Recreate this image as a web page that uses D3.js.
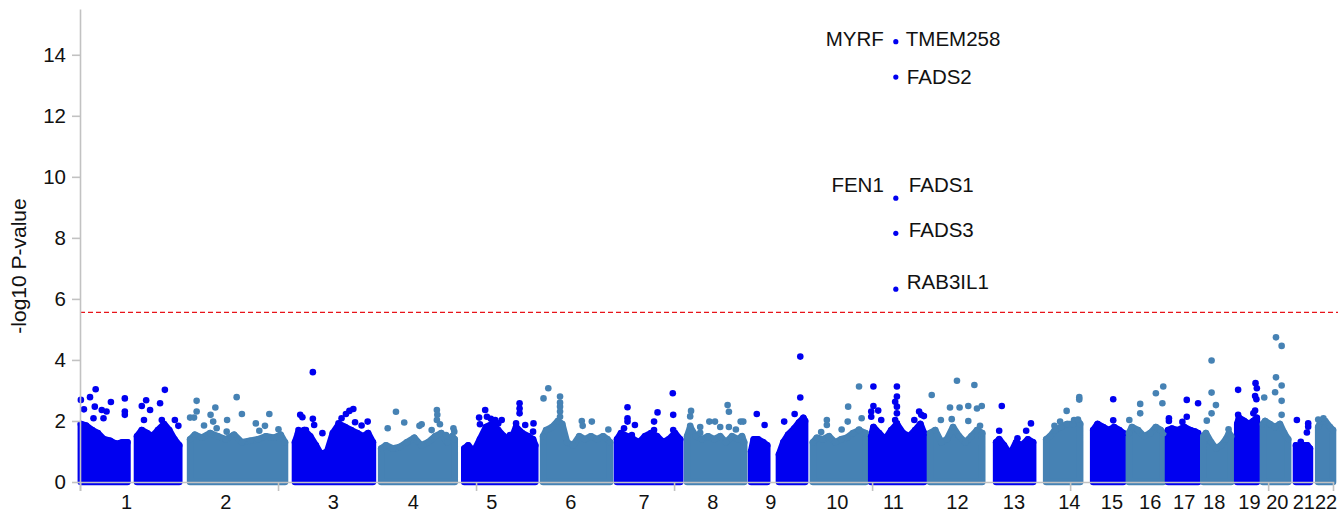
<!DOCTYPE html>
<html>
<head>
<meta charset="utf-8">
<script src="https://cdn.jsdelivr.net/npm/d3@7"></script>
<style>
  body { margin: 0; background: #fff; }
  text { font-family: "Liberation Sans", Arial, sans-serif; fill: #111; }
</style>
</head>
<body>
<div id="manhattan"></div>
<script>
// chromosomes and their lengths in Mb (hg19, rounded)
const chromosomes = ['1','2','3','4','5','6','7','8','9','10','11','12','13','14','15','16','17','18','19','20','21','22']
const chromLengths = [249,243,198,191,181,171,159,146,141,136,135,134,115,107,103,90,81,78,59,63,48,51]
// where each chromosome label sits, Mb from the chromosome start
const chromLabelPos = [107,86,90,76,65,66,63,62,49,61,54,66,62,74,65,50,38,26,29,34,32,35]
const genomeTicks = [0,455,910,1365,1820,2275,2730]
const yTicks = [0,2,4,6,8,10,12,14]
const threshold = 5.56

// top edge of the dense cloud of points: [chrom, Mb, -log10 p], null = gap (centromere)
const cloudTop = [
  [1,2,1.9],[1,14,1.85],[1,28,1.7],[1,41,1.6],[1,55,1.4],[1,69,1.35],[1,83,1.25],[1,97,1.3],[1,109,1.3],[1,120,null],[1,131,1.5],[1,142,1.7],[1,154,1.6],[1,166,1.5],[1,179,1.7],[1,193,1.9],[1,205,1.7],[1,217,1.4],[1,228,1.2],
  [2,4,1.4],[2,15,1.55],[2,31,1.45],[2,50,1.6],[2,68,1.5],[2,86,1.4],[2,105,1.55],[2,123,1.3],[2,142,1.35],[2,160,1.4],[2,178,1.5],[2,197,1.45],[2,212,1.55],[2,222,1.3],
  [3,2,1.3],[3,9,1.6],[3,23,1.7],[3,37,1.5],[3,50,1.2],[3,62,0.9],[3,76,1.0],[3,89,1.6],[3,103,1.9],[3,117,1.8],[3,131,1.7],[3,145,1.6],[3,158,1.5],[3,170,1.6],[3,181,1.3],
  [4,2,1.1],[4,13,1.2],[4,29,1.1],[4,45,1.15],[4,61,1.3],[4,78,1.45],[4,94,1.2],[4,110,1.3],[4,126,1.5],[4,140,1.6],[4,154,1.3],[4,165,1.5],[4,171,1.4],
  [5,2,1.1],[5,11,1.2],[5,24,1.0],[5,38,1.4],[5,52,1.8],[5,66,1.9],[5,80,1.7],[5,93,1.5],[5,107,1.3],[5,121,1.8],[5,135,1.6],[5,149,1.5],[5,160,1.4],[5,165,1.2],
  [6,2,1.5],[6,9,1.7],[6,23,1.8],[6,36,2.0],[6,46,1.9],[6,57,1.3],[6,71,1.2],[6,85,1.5],[6,98,1.4],[6,112,1.5],[6,126,1.4],[6,140,1.5],[6,150,1.4],[6,156,1.3],
  [7,1,1.4],[7,10,1.6],[7,24,1.5],[7,38,1.4],[7,52,1.3],[7,65,1.5],[7,79,1.6],[7,93,1.5],[7,107,1.3],[7,120,1.4],[7,134,1.6],[7,146,1.4],
  [8,3,1.5],[8,10,1.8],[8,23,1.5],[8,37,1.4],[8,51,1.5],[8,65,1.4],[8,79,1.5],[8,92,1.3],[8,106,1.5],[8,120,1.4],[8,129,1.5],[8,134,1.3],
  [9,4,1.0],[9,10,1.4],[9,20,1.4],[9,32,1.3],[9,41,1.2],[9,55,null],[9,68,0.9],[9,78,1.3],[9,89,1.55],[9,103,1.75],[9,114,1.95],[9,124,2.1],[9,128,2.0],
  [10,5,1.3],[10,14,1.45],[10,28,1.4],[10,42,1.5],[10,56,1.3],[10,70,1.4],[10,83,1.45],[10,97,1.6],[10,111,1.7],[10,126,1.6],
  [11,3,1.5],[11,8,1.8],[11,21,1.6],[11,35,1.4],[11,49,1.7],[11,62,1.9],[11,76,1.6],[11,90,1.5],[11,104,1.7],[11,116,1.9],[11,124,1.6],
  [12,3,1.6],[12,15,1.7],[12,29,1.3],[12,42,1.4],[12,56,1.8],[12,70,1.5],[12,84,1.3],[12,98,1.5],[12,111,1.7],[12,123,1.6],
  [13,21,1.3],[13,28,1.4],[13,39,1.2],[13,53,0.9],[13,67,1.3],[13,80,1.2],[13,94,1.4],[13,106,1.3],
  [14,21,1.4],[14,30,1.5],[14,41,1.7],[14,55,1.8],[14,69,1.9],[14,83,1.9],[14,94,2.0],[14,99,1.9],
  [15,22,1.7],[15,32,1.9],[15,45,1.8],[15,58,1.7],[15,70,1.8],[15,82,1.7],[15,91,1.6],
  [16,1,1.6],[16,8,1.8],[16,22,1.7],[16,36,1.5],[16,50,1.6],[16,63,1.8],[16,74,1.7],[16,80,1.6],
  [17,1,1.7],[17,10,1.75],[17,24,1.7],[17,38,1.8],[17,52,1.7],[17,63,1.65],[17,70,1.6],
  [18,1,1.5],[18,7,1.6],[18,19,1.3],[18,30,1.1],[18,42,1.2],[18,53,1.4],[18,60,1.6],[18,65,1.5],
  [19,1,1.9],[19,5,2.1],[19,17,2.0],[19,28,1.9],[19,38,2.0],[19,46,2.1],
  [20,1,1.9],[20,6,2.0],[20,17,1.9],[20,29,1.8],[20,40,1.9],[20,50,1.6],[20,59,1.4],
  [21,14,1.2],[21,22,1.1],[21,30,1.2],[21,40,1.2],[21,46,1.1],
  [22,17,1.8],[22,23,2.0],[22,33,2.0],[22,44,1.8],[22,51,1.7]
]

// single points standing above the cloud: [chrom, Mb, -log10 p]
const outliers = [
  [1,2,2.69],[1,9,2.38],[1,23,2.78],[1,36,3.04],[1,34,2.47],[1,50,2.36],[1,61,2.31],[1,71,2.62],[1,54,2.09],[1,31,2.09],[1,103,2.74],[1,103,2.31],[1,103,2.2],[1,142,2.49],[1,152,2.68],[1,161,2.36],[1,184,2.58],[1,195,3.02],[1,147,2.03],[1,188,2.03],[1,218,2.03],[1,226,1.84],
  [2,19,2.66],[2,19,2.31],[2,4,2.11],[2,13,2.11],[2,36,1.85],[2,51,2.2],[2,62,2.44],[2,57,1.98],[2,65,1.76],[2,89,2.03],[2,111,2.78],[2,123,2.23],[2,88,1.65],[2,155,1.92],[2,163,1.68],[2,176,1.84],[2,186,2.23],[2,207,1.73],
  [3,43,3.6],[3,14,2.2],[3,19,2.12],[3,10,1.7],[3,43,2.07],[3,46,1.87],[3,65,1.6],[3,27,1.7],[3,102,1.92],[3,109,2.09],[3,119,2.23],[3,127,2.33],[3,136,2.39],[3,140,1.96],[3,155,1.85],[3,169,1.98],
  [4,36,2.3],[4,55,1.95],[4,17,1.76],[4,95,1.89],[4,90,1.84],[4,130,2.36],[4,131,2.2],[4,130,2.03],[4,137,1.89],[4,151,1.54],[4,168,1.76],[4,170,1.65],[4,118,1.7],
  [5,50,2.36],[5,36,2.11],[5,38,1.89],[5,54,2.14],[5,63,2.07],[5,73,2.03],[5,80,1.92],[5,129,2.58],[5,129,2.41],[5,129,2.25],[5,121,1.92],[5,142,1.87],[5,161,1.92],[5,160,1.65],[5,107,1.54],[5,88,2.03],
  [6,14,3.07],[6,3,2.74],[6,41,2.8],[6,41,2.6],[6,41,2.47],[6,41,2.31],[6,41,2.14],[6,91,2.0],[6,114,1.98],[6,93,1.84],[6,152,1.72],
  [7,25,2.45],[7,25,2.09],[7,25,1.98],[7,17,1.76],[7,42,1.87],[7,35,1.54],[7,94,2.28],[7,86,1.98],[7,86,1.7],[7,129,2.91],[7,130,2.2],[7,130,1.7],
  [8,12,2.33],[8,10,2.15],[8,10,1.84],[8,33,1.8],[8,33,1.61],[8,54,1.98],[8,67,1.98],[8,96,2.52],[8,99,2.3],[8,99,1.8],[8,115,1.72],[8,132,1.98],[8,126,1.98],[8,79,1.8],
  [9,17,2.23],[9,35,1.87],[9,80,1.98],[9,104,2.23],[9,117,2.77],[9,117,4.11],
  [10,37,2.03],[10,37,1.87],[10,24,1.64],[10,71,1.72],[10,86,2.47],[10,85,1.98],[10,117,2.09],[10,111,3.13],[10,111,1.72],
  [11,8,3.13],[11,8,2.49],[11,3,2.31],[11,3,2.14],[11,19,2.34],[11,26,2.03],[11,62,3.13],[11,62,2.8],[11,58,2.63],[11,62,2.47],[11,62,2.25],[11,58,2.03],[11,62,1.92],[11,113,2.31],[11,118,2.2],[11,124,2.16],[11,102,2.03],
  [12,7,2.85],[12,65,3.32],[12,105,3.18],[12,28,2.03],[12,49,2.44],[12,71,2.44],[12,91,2.49],[12,111,2.41],[12,122,2.49],[12,53,2.06],[12,91,2.0],[12,118,1.84],
  [13,34,2.49],[13,28,1.68],[13,70,1.43],[13,90,1.68],[13,101,1.92],
  [14,97,2.78],[14,97,2.7],[14,68,2.33],[14,53,1.98],[14,40,1.84],[14,85,2.03],[14,94,2.05],
  [15,68,2.71],[15,68,2.02],
  [16,2,2.03],[16,27,2.56],[16,27,2.25],[16,63,2.91],[16,80,3.13],[16,78,2.58],
  [17,3,2.09],[17,3,2.0],[17,34,1.97],[17,44,2.14],[17,44,2.69],[17,70,2.58],
  [18,20,3.98],[18,20,2.93],[18,30,2.52],[18,20,2.25],[18,9,2.01],[18,59,1.73],
  [19,3,3.02],[19,3,2.2],[19,43,3.24],[19,46,3.07],[19,42,2.82],[19,45,2.71],[19,42,2.34],[19,38,2.25],
  [20,31,4.74],[20,44,4.46],[20,31,3.43],[20,44,3.16],[20,29,2.94],[20,44,2.66],[20,44,2.2],[20,4,2.77],
  [21,16,2.03],[21,25,1.32],[21,42,1.92],[21,42,1.81],[21,39,1.62],
  [22,17,2.05],[22,29,2.09]
]

// genome-wide significant genes (chr11 FADS locus)
const hitChrom = 11
const hitMb = 59.5
const hitValues = [14.43,13.27,9.3,8.15,6.32]
const hitGenes = ['TMEM258','FADS2','FADS1','FADS3','RAB3IL1']
const hitGenesLeft = ['MYRF','','FEN1','','']

// label nudges in px from the point (layout only)
const labelNudge = {
  TMEM258: [10,-3], FADS2: [11,0], FADS1: [13,-13], FADS3: [13,-3], RAB3IL1: [11,-7],
  MYRF: [-12,-3], FEN1: [-12,-13]
}

// canvas
const svgWidth = 1344
const svgHeight = 513
const svg = d3.select('#manhattan').append('svg').attr('width', svgWidth).attr('height', svgHeight)

// cumulative chromosome starts
let acc = 0
const chromStart = chromLengths.map(l => { const s = acc; acc += l; return s })
const genomeLength = acc

const x = d3.scaleLinear().domain([0, genomeLength]).range([80, 1333])
const y = d3.scaleLinear().domain([0, 15.5]).range([482, 9])
const gx = d => x(chromStart[d[0] - 1] + d[1])
const colour = c => (c % 2 === 1 ? '#0000f0' : '#4682b4')
const r = 3.3

// dense cloud per chromosome
const area = d3.area().defined(d => d[2] !== null).x(gx).y0(y(0)).y1(d => y(d[2]))
const cloudGroup = svg.append('g')
d3.group(cloudTop, d => d[0]).forEach((rows, c) => {
  cloudGroup.append('path').attr('d', area(rows))
    .attr('fill', colour(c)).attr('stroke', colour(c))
    .attr('stroke-width', r * 2).attr('stroke-linejoin', 'round')
})
cloudGroup.selectAll('circle').data(cloudTop.filter(d => d[2] !== null)).enter().append('circle')
  .attr('cx', gx).attr('cy', d => y(d[2])).attr('r', r).attr('fill', d => colour(d[0]))

// outlying points
svg.append('g').selectAll('circle').data(outliers).enter().append('circle')
  .attr('cx', gx).attr('cy', d => y(d[2])).attr('r', r).attr('fill', d => colour(d[0]))

// significance line
svg.append('line')
  .attr('x1', x(0)).attr('x2', x(genomeLength) + 5)
  .attr('y1', y(threshold)).attr('y2', y(threshold))
  .attr('stroke', '#e8141a').attr('stroke-width', 1.4).attr('stroke-dasharray', '5,3')

// axes
const axisColour = '#c2c2c2'
const xAxis = svg.append('g').attr('transform', `translate(0, ${y(0)})`)
  .call(d3.axisBottom(x).tickValues(genomeTicks).tickFormat('').tickSize(9).tickSizeOuter(9))
const yAxis = svg.append('g').attr('transform', `translate(${x(0)}, 0)`)
  .call(d3.axisLeft(y).tickValues(yTicks).tickSize(8).tickSizeOuter(0).tickPadding(6))
;[xAxis, yAxis].forEach(a => {
  a.selectAll('path, line').attr('stroke', axisColour).attr('stroke-width', 1.6)
})
yAxis.selectAll('text').attr('font-size', 20.5).attr('fill', '#111')
  .attr('font-family', '"Liberation Sans", Arial, sans-serif')

// chromosome labels
svg.append('g').selectAll('text').data(chromosomes).enter().append('text')
  .attr('x', (c, i) => x(chromStart[i] + chromLabelPos[i]))
  .attr('y', 509).attr('text-anchor', 'middle').attr('font-size', 20)
  .text(c => c)

// y title
svg.append('text').attr('transform', 'translate(26, 266) rotate(-90)')
  .attr('text-anchor', 'middle').attr('font-size', 21).text('-log10 P-value')

// top hits with gene names
const hx = x(chromStart[hitChrom - 1] + hitMb)
const hits = svg.append('g')
hits.selectAll('circle').data(hitValues).enter().append('circle')
  .attr('cx', hx).attr('cy', d => y(d)).attr('r', 2.6).attr('fill', '#0000f0')
hits.selectAll('text.right').data(hitGenes).enter().append('text').attr('class', 'right')
  .attr('x', g => hx + labelNudge[g][0])
  .attr('y', (g, i) => y(hitValues[i]) + labelNudge[g][1])
  .attr('dy', '0.35em').attr('font-size', 20.5).text(g => g)
hits.selectAll('text.left').data(hitGenesLeft.map((g, i) => [g, i]).filter(d => d[0])).enter()
  .append('text').attr('class', 'left')
  .attr('x', d => hx + labelNudge[d[0]][0])
  .attr('y', d => y(hitValues[d[1]]) + labelNudge[d[0]][1])
  .attr('dy', '0.35em').attr('text-anchor', 'end').attr('font-size', 20.5).text(d => d[0])
</script>
</body>
</html>
